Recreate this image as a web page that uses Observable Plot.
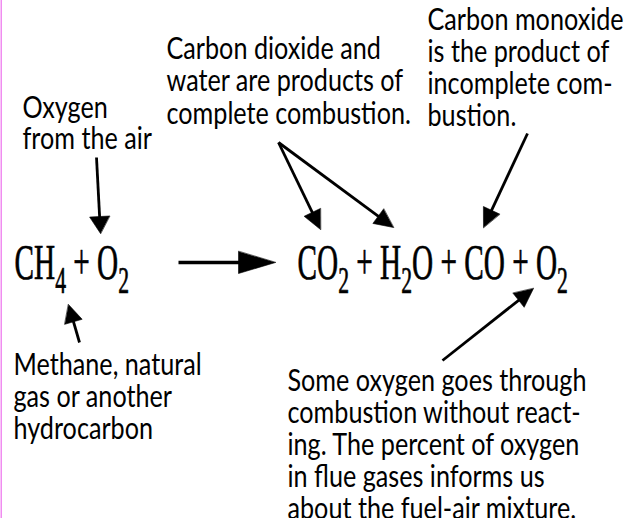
<!DOCTYPE html>
<html><head><meta charset="utf-8">
<script src="https://cdn.jsdelivr.net/npm/d3@7"></script>
<script src="https://cdn.jsdelivr.net/npm/@observablehq/plot@0.6"></script>
<style>
html,body{margin:0;padding:0;background:#fff;}
#chart{position:relative;width:632px;height:518px;overflow:hidden;}
</style></head><body><div id="chart"></div>
<script>
// ---- content ----
const oxygenNote = ["Oxygen", "from the air"];
const methaneNote = ["Methane, natural", "gas or another", "hydrocarbon"];
const completeNote = ["Carbon dioxide and", "water are products of", "complete combustion."];
const incompleteNote = ["Carbon monoxide", "is the product of", "incomplete com-", "bustion."];
const excessNote = ["Some oxygen goes through", "combustion without react-", "ing. The percent of oxygen", "in flue gases informs us", "about the fuel-air mixture."];
const reactants = ["CH4", "O2"];
const products = ["CO2", "H2O", "CO", "O2"];

// ---- layout (pixel positions of the diagram) ----
const noteLayout = [
  {lines: oxygenNote, x: 22, y: 117, step: 31},
  {lines: methaneNote, x: 13, y: 374, step: 32},
  {lines: completeNote, x: 166, y: 58, step: 32.5},
  {lines: incompleteNote, x: 427, y: 29, step: 32},
  {lines: excessNote, x: 287, y: 390, step: 32}
];
const formulaLayout = [
  {terms: reactants, x: 14, y: 278},
  {terms: products, x: 297, y: 278}
];
const arrowLayout = [
  {x1: 96, y1: 157, x2: 100, y2: 233, len: 17, wid: 20},
  {x1: 79, y1: 342, x2: 68, y2: 304, len: 18, wid: 18},
  {x1: 178, y1: 262, x2: 275, y2: 262, len: 37, wid: 22, sw: 3.3},
  {x1: 278, y1: 142, x2: 320, y2: 229, len: 19, wid: 18},
  {x1: 278, y1: 142, x2: 393, y2: 227, len: 19, wid: 18},
  {x1: 527, y1: 133, x2: 483, y2: 227, len: 19, wid: 18},
  {x1: 442, y1: 360, x2: 533, y2: 288, len: 19, wid: 18}
];

// ---- styles ----
const bodyFont = "Lato, 'Open Sans', sans-serif";
const bodySize = 30;
const bodyStretch = 0.84;
const formulaFont = "'Liberation Serif', 'DejaVu Serif', serif";
const formulaSize = 50;
const subSize = 37;
const subDrop = 14;
const formulaStretch = 0.585;

// ---- derived tables ----
const noteRows = noteLayout.flatMap((n, k) => n.lines.map((t, i) => ({text: t, x: n.x, y: n.y + i * n.step, note: k})));
const formulaRows = formulaLayout.map(f => ({text: f.terms.join(" + "), x: f.x, y: f.y}));
const shafts = arrowLayout.map((a, i) => {
  const dx = a.x2 - a.x1, dy = a.y2 - a.y1, L = Math.hypot(dx, dy);
  const ux = dx / L, uy = dy / L;
  return {id: i, x1: a.x1, y1: a.y1, x2: a.x2 - ux * (a.len - 2), y2: a.y2 - uy * (a.len - 2), sw: a.sw || 2.8};
});
const heads = arrowLayout.flatMap((a, i) => {
  const dx = a.x2 - a.x1, dy = a.y2 - a.y1, L = Math.hypot(dx, dy);
  const ux = dx / L, uy = dy / L, px = -uy, py = ux;
  const bx = a.x2 - ux * a.len, by = a.y2 - uy * a.len;
  return [
    {id: i, x: a.x2, y: a.y2},
    {id: i, x: bx + px * a.wid / 2, y: by + py * a.wid / 2},
    {id: i, x: bx - px * a.wid / 2, y: by - py * a.wid / 2}
  ];
});

const chart = Plot.plot({
  width: 632,
  height: 518,
  margin: 0,
  x: {type: "identity"},
  y: {type: "identity"},
  style: {background: "#fff"},
  marks: [
    Plot.ruleX([0.75], {stroke: "#f08cf0", strokeWidth: 1.5}),
    Plot.link(shafts, {x1: "x1", y1: "y1", x2: "x2", y2: "y2", stroke: "#000", strokeWidth: "sw", strokeLinecap: "butt"}),
    Plot.line(heads, {x: "x", y: "y", z: "id", fill: "#000", stroke: "#000", strokeWidth: 0.6, curve: "linear-closed"}),
    Plot.text(noteRows, {x: "x", y: "y", text: "text", textAnchor: "start", lineAnchor: "bottom", fontSize: bodySize, fontFamily: bodyFont, fill: "#000"}),
    Plot.text(formulaRows, {x: "x", y: "y", text: "text", textAnchor: "start", lineAnchor: "bottom", fontSize: formulaSize, fontFamily: formulaFont, fill: "#000", stroke: "#000", strokeWidth: 0.7})
  ]
});
document.getElementById("chart").appendChild(chart);

// horizontal condensing of the lettering, anchored at each text's start
function stretch(el, s) {
  const tr = el.getAttribute("transform");
  if (tr) el.setAttribute("transform", tr + ` scale(${s},1)`);
  else {
    const x = +el.getAttribute("x") || 0, y = +el.getAttribute("y") || 0;
    el.removeAttribute("x"); el.removeAttribute("y");
    el.setAttribute("transform", `translate(${x},${y}) scale(${s},1)`);
  }
}
const ns = "http://www.w3.org/2000/svg";
const groups = d3.select(chart).selectAll('g[aria-label="text"]').nodes();
d3.select(groups[0]).selectAll("text").each(function () { stretch(this, bodyStretch); });
d3.select(groups[1]).selectAll("text").each(function () {
  const s = this.textContent;
  this.textContent = "";
  this.style.whiteSpace = "pre";
  let low = false;
  for (const p of s.match(/\d+|\D+/g)) {
    const t = document.createElementNS(ns, "tspan");
    const sub = /\d/.test(p);
    if (sub) { t.setAttribute("font-size", subSize); if (!low) { t.setAttribute("dy", subDrop); low = true; } }
    else if (low) { t.setAttribute("dy", -subDrop); low = false; }
    t.textContent = p;
    this.appendChild(t);
  }
  stretch(this, formulaStretch);
});
</script>
</body></html>
